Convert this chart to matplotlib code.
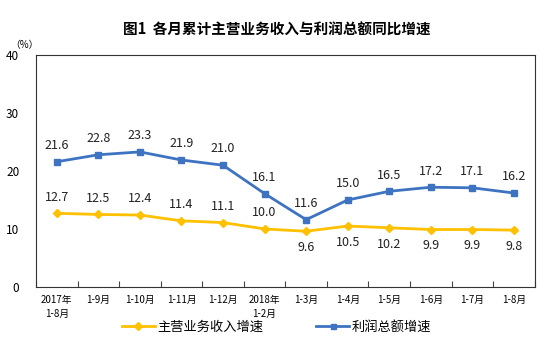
import numpy as np
import matplotlib
matplotlib.use("Agg")
import matplotlib.pyplot as plt

plt.rcParams['font.family'] = ['Noto Sans CJK SC', 'DejaVu Sans']

months = ["2017年\n1-8月", "1-9月", "1-10月", "1-11月", "1-12月", "2018年\n1-2月",
          "1-3月", "1-4月", "1-5月", "1-6月", "1-7月", "1-8月"]
revenue = [12.7, 12.5, 12.4, 11.4, 11.1, 10.0, 9.6, 10.5, 10.2, 9.9, 9.9, 9.8]
profit = [21.6, 22.8, 23.3, 21.9, 21.0, 16.1, 11.6, 15.0, 16.5, 17.2, 17.1, 16.2]

orange = "#FFC000"
blue = "#3E73C2"

fig = plt.figure(figsize=(5.53, 3.49), dpi=100)
ax = fig.add_axes([0.065, 0.178, 0.902, 0.664])

x = np.arange(len(months))
ax.plot(x, revenue, color=orange, lw=2, marker="D", ms=4.5, label="主营业务收入增速")
ax.plot(x, profit, color=blue, lw=2, marker="s", ms=4.5, label="利润总额增速")

for i, v in enumerate(profit):
    ax.annotate(f"{v:.1f}", (i, v), xytext=(0, 7), textcoords="offset points",
                ha="center", va="bottom", fontsize=9, color="#222222")
for i, v in enumerate(revenue):
    off = 7 if i < 6 else -7
    ax.annotate(f"{v:.1f}", (i, v), xytext=(0, off), textcoords="offset points",
                ha="center", va="bottom" if off > 0 else "top", fontsize=9, color="#222222")

ax.set_xlim(-0.5, len(months) - 0.5)
ax.set_ylim(0, 40)
ax.set_yticks([0, 10, 20, 30, 40])
ax.tick_params(axis="y", length=0, labelsize=8.5, pad=12)
ax.set_xticks(np.arange(len(months) + 1) - 0.5)
ax.set_xticklabels([])
ax.set_xticks(x, minor=True)
ax.set_xticklabels(months, minor=True, fontsize=7, linespacing=1.45)
ax.tick_params(axis="x", which="major", direction="in", length=4, color="#444444")
ax.tick_params(axis="x", which="minor", length=0, pad=6)
for s in ax.spines.values():
    s.set_color("#333333")
    s.set_linewidth(0.8)

fig.text(0.045, 0.87, "（%）", fontsize=7, ha="center", va="center")
fig.text(0.5, 0.915, "图1  各月累计主营业务收入与利润总额同比增速", fontsize=10.5,
         ha="center", va="center", fontweight="bold")

fig.legend(loc="center", bbox_to_anchor=(0.5, 0.062), ncol=2, frameon=False,
           fontsize=9.5, handlelength=2.5, columnspacing=4, handletextpad=0.2,
           markerscale=0.8)

fig.savefig("out.png", dpi=100)
